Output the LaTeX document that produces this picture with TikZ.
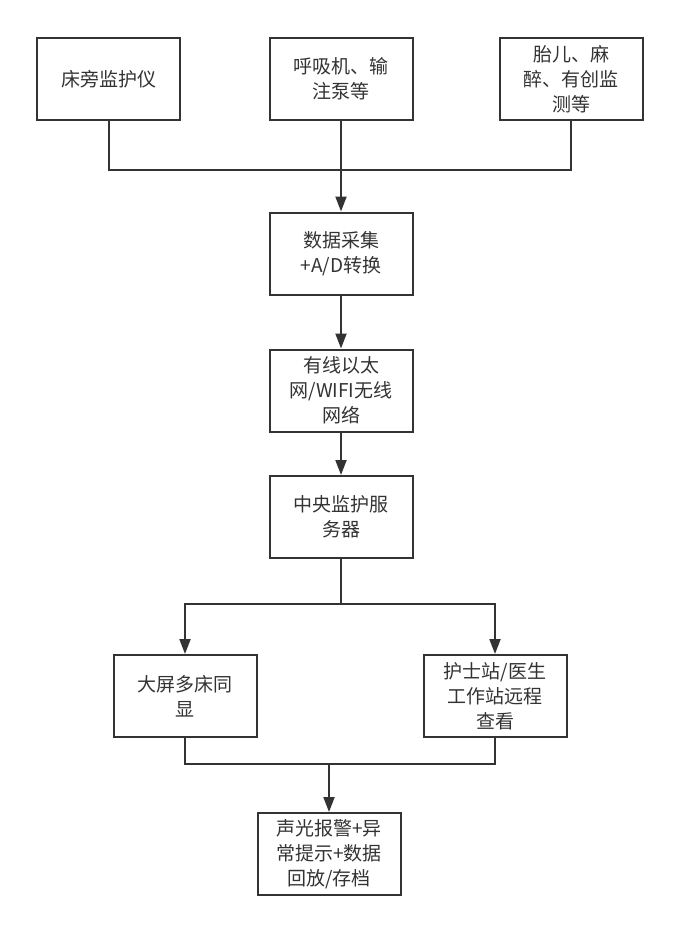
\documentclass[tikz,border=0pt]{standalone}
\usepackage{fontspec}
\setmainfont{Noto Sans CJK SC}
\usetikzlibrary{arrows.meta}
\definecolor{ink}{HTML}{333333}
\tikzset{
  box/.style={draw=ink, line width=2pt, text=ink, minimum width=143pt, minimum height=82pt, align=center, inner sep=2pt, font=\fontsize{19pt}{25pt}\selectfont},
  wire/.style={draw=ink, line width=2pt},
  arr/.style={wire, -{Triangle[length=15pt,width=11pt]}}
}
\begin{document}
\begin{tikzpicture}[x=1pt,y=1pt]
\useasboundingbox[fill=white] (0,0) rectangle (682,-932);
\node[box] (b1) at (108.5,-79) {床旁监护仪};
\node[box] (b2) at (341,-79) {呼吸机、输\\注泵等};
\node[box] (b3) at (571,-79) {胎儿、麻\\醉、有创监\\测等};
\node[box] (b4) at (341,-253.5) {数据采集\\+A/D转换};
\node[box] (b5) at (341,-390.5) {有线以太\\网/WIFI无线\\网络};
\node[box] (b6) at (341,-517) {中央监护服\\务器};
\node[box] (b7) at (185,-696) {大屏多床同\\显};
\node[box] (b8) at (495,-696) {护士站/医生\\工作站远程\\查看};
\node[box] (b9) at (329,-854) {声光报警+异\\常提示+数据\\回放/存档};
\coordinate (j1) at (341,-170);
\coordinate (j2) at (341,-604);
\coordinate (j3) at (329,-764);
\draw[wire] (b1.south) |- (j1);
\draw[wire] (b3.south) |- (j1);
\draw[arr] (b2.south) -- (b4.north);
\draw[arr] (b4.south) -- (b5.north);
\draw[arr] (b5.south) -- (b6.north);
\draw[wire] (b6.south) -- (j2);
\draw[arr] (j2) -| (b7.north);
\draw[arr] (j2) -| (b8.north);
\draw[wire] (b7.south) |- (j3);
\draw[wire] (b8.south) |- (j3);
\draw[arr] (j3) -- (b9.north);
\end{tikzpicture}
\end{document}
